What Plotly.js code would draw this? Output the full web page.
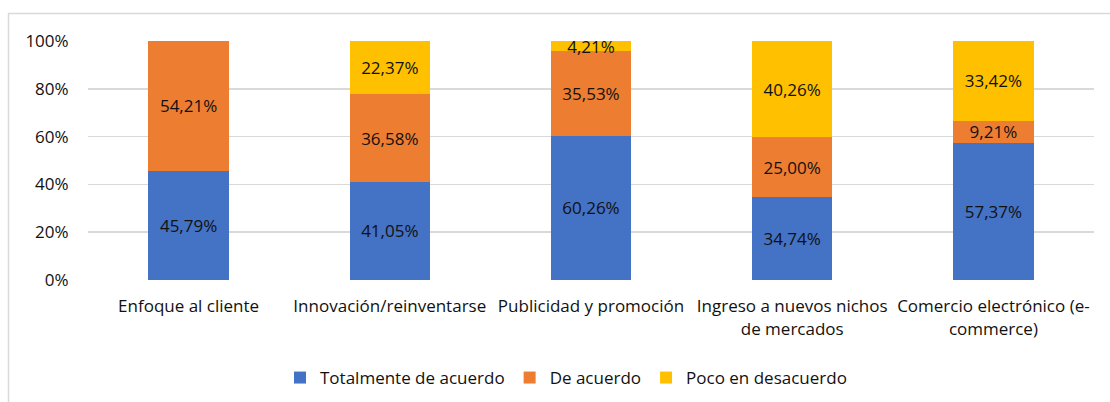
<!DOCTYPE html>
<html>
<head>
<meta charset="utf-8">
<script src="https://cdn.plot.ly/plotly-3.0.1.min.js"></script>
<style>html,body{margin:0;padding:0;background:#fff;}#chart{width:1110px;height:402px;}</style>
</head>
<body>
<div id="chart"></div>
<script>
const categories = [
  "Enfoque al cliente",
  "Innovación/reinventarse",
  "Publicidad y promoción",
  "Ingreso a nuevos nichos<br>de mercados",
  "Comercio electrónico (e-<br>commerce)"
];
const seriesNames = ["Totalmente de acuerdo", "De acuerdo", "Poco en desacuerdo"];
const totalmente = [45.79, 41.05, 60.26, 34.74, 57.37];
const deAcuerdo = [54.21, 36.58, 35.53, 25.00, 9.21];
const poco = [0, 22.37, 4.21, 40.26, 33.42];
const yTickVals = [0, 20, 40, 60, 80, 100];
const yTickText = ["0%", "20%", "40%", "60%", "80%", "100%"];
const colors = ["#4472C4", "#ED7D31", "#FFC000"];

const FONT = "'Open Sans', 'Noto Sans', sans-serif";
const FS = 17;
function fmt(v){ return v > 0 ? v.toFixed(2).replace('.', ',') + '%' : ''; }

const data = [totalmente, deAcuerdo, poco].map((vals, i) => ({
  type: 'bar',
  name: seriesNames[i],
  x: categories,
  y: vals,
  text: vals.map(fmt),
  textposition: 'inside',
  insidetextanchor: 'middle',
  textangle: 0,
  constraintext: 'none',
  textfont: {family: FONT, size: FS, color: '#111'},
  marker: {color: colors[i]},
  hoverinfo: 'none'
}));

const L = 88, R = 16, T = 41, B = 122;
const W = 1110 - L - R, H = 402 - T - B;
const px = x => (x - L) / W;
const py = y => 1 - (y - T) / H;

const layout = {
  width: 1110, height: 402,
  margin: {l: L, r: R, t: T, b: B, autoexpand: false},
  barmode: 'stack',
  bargap: 0.6,
  paper_bgcolor: '#fff',
  plot_bgcolor: '#fff',
  font: {family: FONT, size: FS, color: '#111'},
  showlegend: true,
  legend: {
    orientation: 'h', x: px(566), xanchor: 'center', y: py(378), yanchor: 'middle',
    font: {family: FONT, size: FS, color: '#111'},
    itemwidth: 30, traceorder: 'normal'
  },
  xaxis: {
    type: 'category',
    showgrid: false, zeroline: false, showline: false,
    ticks: 'outside', ticklen: 11, tickcolor: 'rgba(0,0,0,0)',
    tickfont: {family: FONT, size: FS, color: '#111'},
    automargin: false
  },
  yaxis: {
    range: [0, 100],
    tickvals: yTickVals, ticktext: yTickText,
    showgrid: true, gridcolor: '#d9d9d9', gridwidth: 1.5,
    zeroline: false, showline: false,
    ticks: 'outside', ticklen: 15, tickcolor: 'rgba(0,0,0,0)',
    tickfont: {family: FONT, size: FS, color: '#111'},
    automargin: false
  },
  shapes: [
    {type: 'line', xref: 'paper', yref: 'paper', x0: px(8.5), x1: px(8.5), y0: py(13), y1: py(420), line: {color: '#d9d9d9', width: 1.5}},
    {type: 'line', xref: 'paper', yref: 'paper', x0: px(8), x1: px(1130), y0: py(13.5), y1: py(13.5), line: {color: '#d9d9d9', width: 1.5}}
  ]
};

Plotly.newPlot('chart', data, layout, {displayModeBar: false, staticPlot: true});
</script>
</body>
</html>
